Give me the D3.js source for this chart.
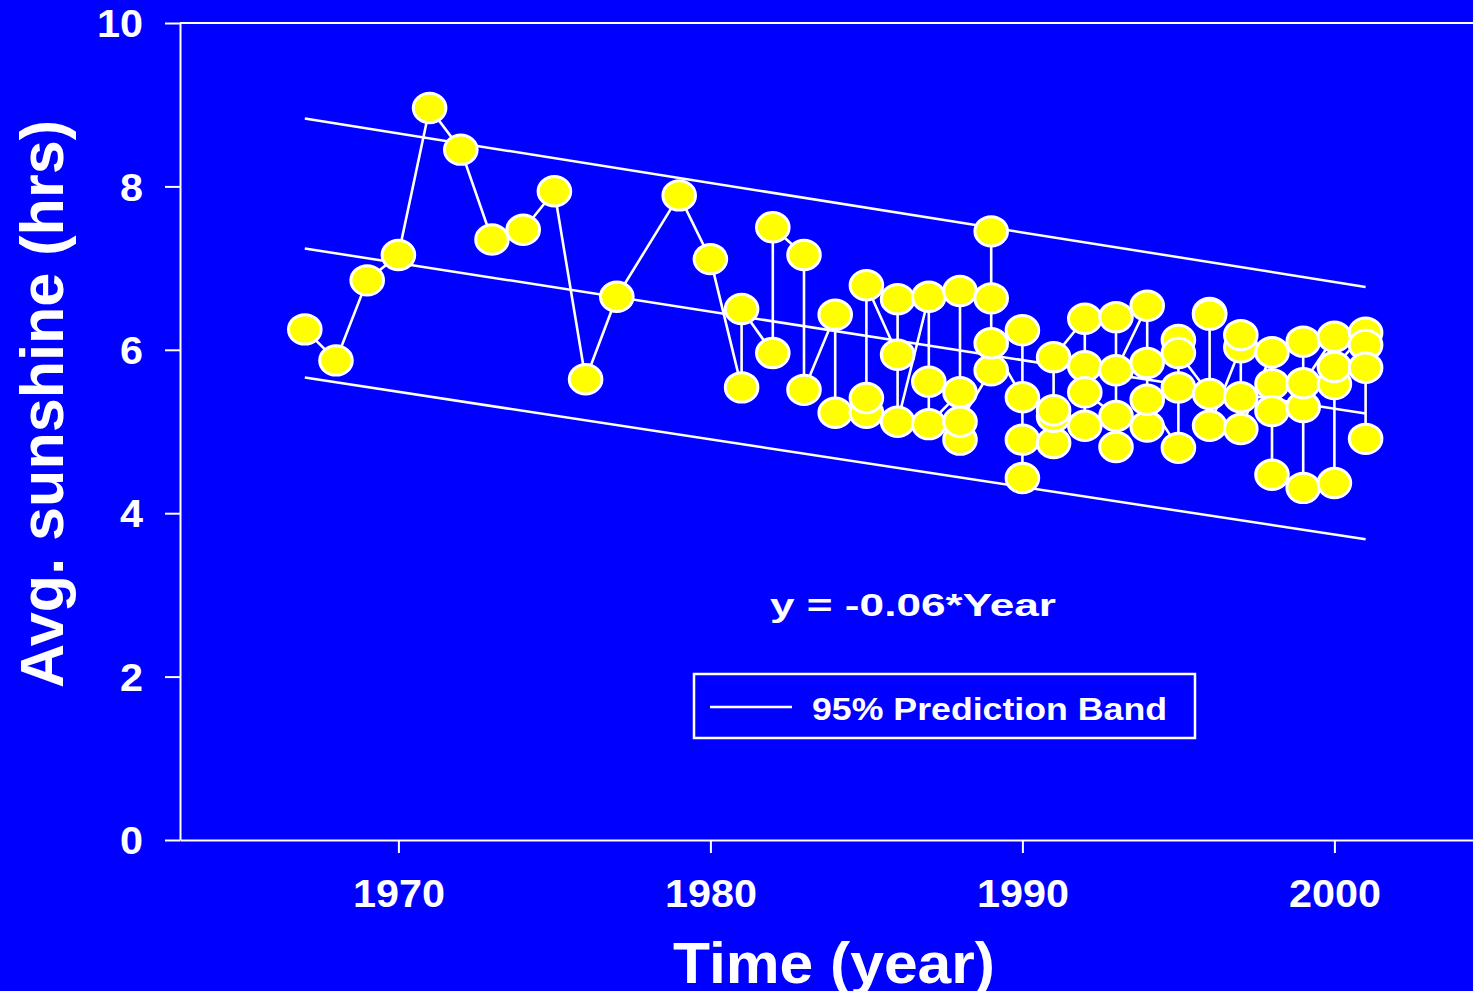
<!DOCTYPE html>
<html>
<head>
<meta charset="utf-8">
<script src="https://cdn.jsdelivr.net/npm/d3@7"></script>
<style>
  html, body { margin: 0; padding: 0; background: #0000ff; overflow: hidden; }
  svg { display: block; }
  text { font-family: "Liberation Sans", Arial, sans-serif; font-weight: bold; fill: #ffffff; }
</style>
</head>
<body>
<svg id="chart" width="1473" height="991"></svg>
<script>
// Yearly sunshine observations, listed in the order they are joined by the line
const obsYears = [
  1967, 1968, 1969, 1970, 1971, 1972, 1973, 1974, 1975, 1976, 1977, 1979, 1980,
  1981, 1981,
  1982, 1982,
  1983, 1983,
  1984, 1984,
  1985, 1985, 1985,
  1986, 1986, 1986,
  1987, 1987, 1987,
  1988, 1988, 1988, 1988,
  1989, 1989, 1989, 1989,
  1990, 1990, 1990, 1990,
  1991, 1991, 1991, 1991,
  1992, 1992, 1992, 1992,
  1993, 1993, 1993, 1993,
  1994, 1994, 1994, 1994,
  1995, 1995, 1995, 1995,
  1996, 1996, 1996, 1996,
  1997, 1997, 1997, 1997,
  1998, 1998, 1998, 1998,
  1999, 1999, 1999, 1999,
  2000, 2000, 2000, 2000,
  2001, 2001, 2001, 2001
];
const obsHours = [
  6.25, 5.87, 6.85, 7.16, 8.96, 8.45, 7.35, 7.47, 7.94, 5.64, 6.65, 7.89, 7.11,
  5.54, 6.50,
  5.96, 7.50,
  7.16, 5.51,
  6.43, 5.23,
  5.23, 5.41, 6.79,
  5.94, 6.62, 5.12,
  6.65, 5.61, 5.09,
  5.48, 6.72, 4.90, 5.12,
  5.75, 7.45, 6.63, 6.08,
  5.42, 6.24, 4.43, 4.90,
  4.86, 5.18, 5.26, 5.91,
  6.38, 5.80, 5.07, 5.48,
  5.19, 4.81, 6.40, 5.75,
  6.54, 5.84, 5.06, 5.39,
  4.80, 6.12, 5.54, 5.96,
  5.46, 6.45, 6.43, 5.07,
  6.03, 6.18, 5.42, 5.03,
  5.97, 5.58, 4.47, 5.25,
  5.30, 4.31, 6.10, 5.59,
  6.16, 4.37, 5.58, 5.79,
  6.21, 6.06, 5.78, 4.91
];

// Linear fit and 95% prediction band, evaluated at the ends of the record
const bandYears = [1967, 2001];
const bandUpper = [8.83, 6.77];
const fitLine   = [7.24, 5.22];
const bandLower = [5.66, 3.68];

// Axis ticks and labels
const yTicks = [0, 2, 4, 6, 8, 10];
const xTicks = [1970, 1980, 1990, 2000];
const equationText = "y = -0.06*Year";
const legendText = "95% Prediction Band";
const xTitle = "Time (year)";
const yTitle = "Avg. sunshine (hrs)";

const svg = d3.select("#chart");
svg.append("rect").attr("width", 1473).attr("height", 991).attr("fill", "#0000ff");

const x = d3.scaleLinear().domain([1963, 2005]).range([180, 180 + 42 * 31.2]);
const y = d3.scaleLinear().domain([0, 10]).range([840, 23]);

const white = "#ffffff";

// top frame line
svg.append("line")
  .attr("x1", x.range()[0]).attr("x2", x.range()[1])
  .attr("y1", y(10)).attr("y2", y(10))
  .attr("stroke", white).attr("stroke-width", 2);

// y axis
const yAxis = svg.append("g")
  .attr("transform", `translate(${x.range()[0]},0)`)
  .call(d3.axisLeft(y).tickValues(yTicks).tickSize(15).tickSizeOuter(0).tickPadding(22));
// x axis
const xAxis = svg.append("g")
  .attr("transform", `translate(0,${y(0)})`)
  .call(d3.axisBottom(x).tickValues(xTicks).tickFormat(d3.format("d")).tickSize(13).tickSizeOuter(0).tickPadding(27));

[yAxis, xAxis].forEach(g => {
  g.select(".domain").attr("stroke", white).attr("stroke-width", 2);
  g.selectAll(".tick line").attr("stroke", white).attr("stroke-width", 2);
  g.selectAll(".tick text")
    .attr("fill", white)
    .style("font-size", "38px")
    .attr("font-family", null)
    .attr("font-size", null)
    .attr("textLength", function () { return this.textContent.length * 23; })
    .attr("lengthAdjust", "spacingAndGlyphs");
});
yAxis.selectAll(".tick text").attr("dy", "0.36em");

// axis titles
svg.append("text")
  .attr("x", 834).attr("y", 983)
  .attr("text-anchor", "middle")
  .style("font-size", "58px")
  .attr("textLength", 322).attr("lengthAdjust", "spacingAndGlyphs")
  .text(xTitle);

svg.append("text")
  .attr("transform", "translate(63,404) rotate(-90)")
  .attr("text-anchor", "middle")
  .style("font-size", "61px")
  .attr("textLength", 568).attr("lengthAdjust", "spacingAndGlyphs")
  .text(yTitle);

// regression line and prediction band
const bandLine = d3.line().x(d => x(d[0])).y(d => y(d[1]));
[bandUpper, fitLine, bandLower].forEach(vals => {
  svg.append("path")
    .datum(bandYears.map((yr, i) => [yr, vals[i]]))
    .attr("d", bandLine)
    .attr("fill", "none")
    .attr("stroke", white)
    .attr("stroke-width", 2.5);
});

// observation series
const obs = obsYears.map((yr, i) => [yr, obsHours[i]]);
svg.append("path")
  .datum(obs)
  .attr("d", d3.line().x(d => x(d[0])).y(d => y(d[1])))
  .attr("fill", "none")
  .attr("stroke", white)
  .attr("stroke-width", 2.6)
  .attr("stroke-linejoin", "round");

svg.append("g").selectAll("ellipse")
  .data(obs)
  .join("ellipse")
  .attr("cx", d => x(d[0]))
  .attr("cy", d => y(d[1]))
  .attr("rx", 16.3)
  .attr("ry", 14.7)
  .attr("fill", "#ffff00")
  .attr("stroke", white)
  .attr("stroke-width", 3);

// regression equation
svg.append("text")
  .attr("x", 770).attr("y", 616)
  .style("font-size", "32px")
  .attr("textLength", 286).attr("lengthAdjust", "spacingAndGlyphs")
  .text(equationText);

// legend
const legend = svg.append("g");
legend.append("rect")
  .attr("x", 694).attr("y", 674)
  .attr("width", 501).attr("height", 64)
  .attr("fill", "none")
  .attr("stroke", white)
  .attr("stroke-width", 2.5);
legend.append("line")
  .attr("x1", 710).attr("x2", 792)
  .attr("y1", 707).attr("y2", 707)
  .attr("stroke", white).attr("stroke-width", 2.5);
legend.append("text")
  .attr("x", 812).attr("y", 720)
  .style("font-size", "32px")
  .attr("textLength", 355).attr("lengthAdjust", "spacingAndGlyphs")
  .text(legendText);
</script>
</body>
</html>
